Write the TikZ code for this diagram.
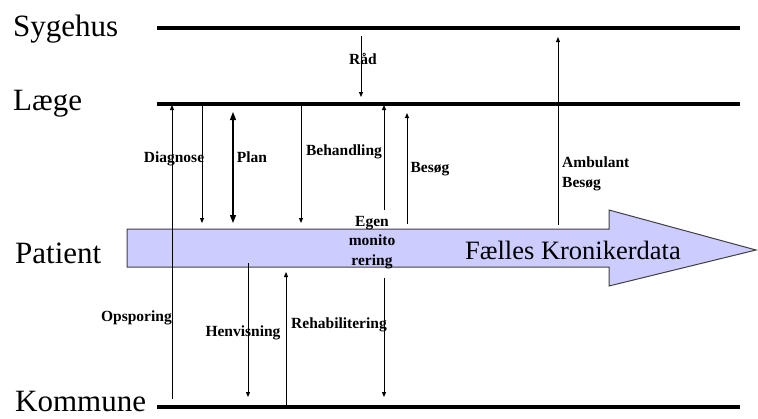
\documentclass[tikz,border=0pt]{standalone}
\usepackage{fontspec}
\setmainfont{Liberation Serif}
\usetikzlibrary{arrows.meta}

\begin{document}
\begin{tikzpicture}[x=1pt, y=-1pt,
		level/.style={anchor=base west, inner sep=0pt, font=\fontsize{31}{31}\selectfont},
		track/.style={line width=3.5pt},
		flow/.style={line width=1pt, -{Triangle[length=5pt, width=4pt]}},
		lbl/.style={anchor=base, inner sep=0pt, font=\fontsize{15.5}{19.5}\selectfont\bfseries, align=center}]
				\useasboundingbox (0,0) rectangle (758,418);
				% levels
				\node[level] (syg)at(13, 36) {Sygehus};
				\node[level] (laege)at(13, 110) {Læge};
				\node[level] (pat)at(15, 263) {Patient};
				\node[level] (kom)at(15, 411) {Kommune};
				\coordinate (sygA)at(157, 28);  \coordinate (sygB)at(740, 28);
				\coordinate (laeA)at(157, 104); \coordinate (laeB)at(740, 104);
				\coordinate (komA)at(157, 407); \coordinate (komB)at(740, 407);
				\draw[track] (sygA) -- (sygB);
				\draw[track] (laeA) -- (laeB);
				\draw[track] (komA) -- (komB);
				% patient arrow
				\draw[fill={rgb,255:red,204;green,204;blue,255}, draw={rgb,255:red,64;green,64;blue,64}, line width=1pt]
					(127, 229) -- (609, 229) -- (609, 210) -- (756, 250) -- (609, 286) -- (609, 267) -- (127, 267) -- cycle;
				\node[font=\fontsize{26.5}{26.5}\selectfont] (data)at(573, 250) {Fælles Kronikerdata};
				% end points
				\coordinate (radA)at(361, 36);  \coordinate (radB)at(361, 97);
				\coordinate (diaA)at(172, 399); \coordinate (diaB)at(172, 105);
				\coordinate (lpA)at(202, 104);  \coordinate (lpB)at(202, 223);
				\coordinate (plaA)at(233, 112); \coordinate (plaB)at(233, 223);
				\coordinate (behA)at(301, 104); \coordinate (behB)at(301, 223);
				\coordinate (egA)at(384, 210);  \coordinate (egB)at(384, 105);
				\coordinate (egC)at(384, 278);  \coordinate (egD)at(384, 397);
				\coordinate (besA)at(407, 224); \coordinate (besB)at(407, 113);
				\coordinate (ambA)at(558, 225); \coordinate (ambB)at(558, 37);
				\coordinate (henA)at(248, 263); \coordinate (henB)at(248, 397);
				\coordinate (rehA)at(286, 407); \coordinate (rehB)at(286, 272);
				\draw[flow] (radA) -- (radB);
				\draw[flow] (diaA) -- (diaB);
				\draw[flow] (lpA) -- (lpB);
				\draw[line width=1.3pt, {Triangle[length=8pt, width=6pt]}-{Triangle[length=8pt, width=6pt]}] (plaA) -- (plaB);
				\draw[flow] (behA) -- (behB);
				\draw[flow] (egA) -- (egB);
				\draw[flow] (egC) -- (egD);
				\draw[flow] (besA) -- (besB);
				\draw[flow] (ambA) -- (ambB);
				\draw[flow] (henA) -- (henB);
				\draw[flow] (rehA) -- (rehB);
				% labels
				\node[lbl] (rad)at(363, 64) {Råd};
				\node[lbl] (dia)at(174, 162) {Diagnose};
				\node[lbl] (pla)at(252, 162) {Plan};
				\node[lbl] (beh)at(344, 155) {Behandling};
				\node[lbl] (bes)at(430, 172) {Besøg};
				\node[lbl, anchor=north west, align=left] (amb)at(562, 157) {Ambulant\\Besøg};
				\node[lbl, anchor=north] (egen)at(372, 216) {Egen\\monito\\rering};
				\node[lbl, anchor=base east] (ops)at(172, 321) {Opsporing};
				\node[lbl] (hen)at(243, 336) {Henvisning};
				\node[lbl, anchor=base west] (reh)at(291, 328) {Rehabilitering};
			\end{tikzpicture}
\end{document}
